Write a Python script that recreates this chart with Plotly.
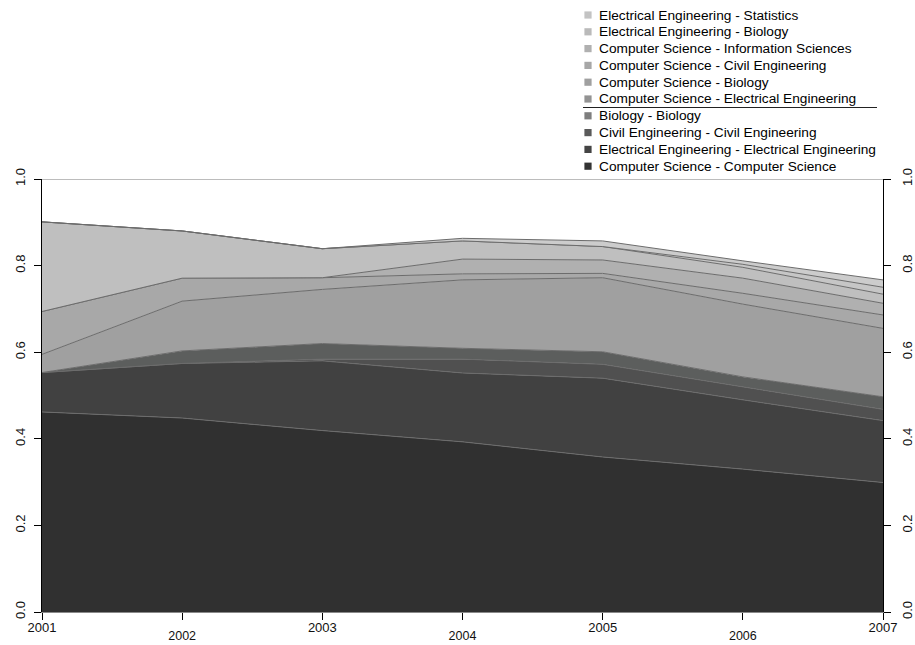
import plotly.graph_objects as go

# ---------------- data ----------------
years = [2001, 2002, 2003, 2004, 2005, 2006, 2007]
year_labels = ["2001", "2002", "2003", "2004", "2005", "2006", "2007"]

series_names = [
    "Computer Science - Computer Science",
    "Electrical Engineering - Electrical Engineering",
    "Civil Engineering - Civil Engineering",
    "Biology - Biology",
    "Computer Science - Electrical Engineering",
    "Computer Science - Biology",
    "Computer Science - Civil Engineering",
    "Computer Science - Information Sciences",
    "Electrical Engineering - Biology",
    "Electrical Engineering - Statistics",
]

cs_cs = [0.462, 0.448, 0.419, 0.393, 0.358, 0.330, 0.299]
ee_ee = [0.091, 0.126, 0.161, 0.159, 0.182, 0.160, 0.143]
ce_ce = [0.000, 0.000, 0.004, 0.032, 0.032, 0.030, 0.026]
bio_bio = [0.000, 0.029, 0.036, 0.025, 0.029, 0.023, 0.029]
cs_ee = [0.042, 0.115, 0.125, 0.158, 0.171, 0.168, 0.158]
cs_bio = [0.099, 0.053, 0.027, 0.014, 0.010, 0.025, 0.031]
cs_ce = [0.000, 0.000, 0.000, 0.034, 0.031, 0.035, 0.027]
cs_is = [0.207, 0.109, 0.067, 0.042, 0.031, 0.025, 0.021]
ee_bio = [0.000, 0.000, 0.000, 0.000, 0.000, 0.007, 0.016]
ee_stat = [0.000, 0.000, 0.000, 0.006, 0.013, 0.008, 0.017]

series_values = [cs_cs, ee_ee, ce_ce, bio_bio, cs_ee, cs_bio, cs_ce, cs_is, ee_bio, ee_stat]

y_ticks = [0.0, 0.2, 0.4, 0.6, 0.8, 1.0]
y_tick_labels = ["0.0", "0.2", "0.4", "0.6", "0.8", "1.0"]

# ---------------- style ----------------
area_colors = ["#303030", "#414141", "#505050", "#5c5e5d", "#a0a0a0",
               "#a8a8a8", "#b0b0b0", "#bfbfbf", "#c6c6c6", "#cccccc"]
legend_colors = ["#333333", "#444444", "#5a5a5a", "#7e7e7e", "#939393",
                 "#a0a0a0", "#a7a7a7", "#b0b0b0", "#bababa", "#c3c3c3"]
edge_color = "#6c6c6c"
FONT = "Liberation Sans, Arial, sans-serif"

W, H = 915, 645
ML, MR, MT, MB = 42, 32, 179, 33
PW, PH = W - ML - MR, H - MT - MB


def px_to_paper_x(px):
    return (px - ML) / PW


def px_to_paper_y(py):
    return (H - MB - py) / PH


fig = go.Figure()
for name, vals, col in zip(series_names, series_values, area_colors):
    fig.add_trace(go.Scatter(
        x=years, y=vals, name=name, mode="lines",
        stackgroup="one", fillcolor=col,
        line=dict(color=edge_color, width=1),
        showlegend=False, hoverinfo="x+y+name",
    ))

# empty helper trace so the secondary (right / staggered) axes are drawn
fig.add_trace(go.Scatter(x=[None], y=[None], xaxis="x2", yaxis="y2",
                         showlegend=False, hoverinfo="skip", mode="lines"))

odd_years = years[0::2]
even_years = years[1::2]
even_labels = year_labels[1::2]

axis_font = dict(family=FONT, size=13, color="#111111")

common_y = dict(
    range=[0, 1], tickvals=y_ticks, ticktext=y_tick_labels,
    tickangle=-90, ticks="outside", ticklen=7, tickcolor="#000000", tickwidth=1,
    showline=True, linecolor="#000000", linewidth=1,
    showgrid=False, zeroline=False, tickfont=axis_font,
    automargin=False,
)

fig.update_layout(
    width=W, height=H,
    margin=dict(l=ML, r=MR, t=MT, b=MB, pad=0, autoexpand=False),
    paper_bgcolor="white", plot_bgcolor="white",
    showlegend=False,
    xaxis=dict(
        range=[years[0], years[-1]], tickvals=years,
        ticktext=[lab if y in odd_years else "" for y, lab in zip(years, year_labels)],
        ticks="outside", ticklen=7, tickcolor="#000000", tickwidth=1,
        showline=True, linecolor="#8a8a8a", linewidth=1,
        showgrid=False, zeroline=False, tickfont=axis_font, automargin=False,
        ticklabelstandoff=-4,
    ),
    xaxis2=dict(
        range=[years[0], years[-1]], tickvals=even_years, ticktext=even_labels,
        overlaying="x", side="bottom", anchor="y2",
        ticks="outside", ticklen=7, tickcolor="#000000", tickwidth=1,
        showline=False, showgrid=False, zeroline=False,
        tickfont=dict(family=FONT, size=12.5, color="#111111"),
        automargin=False, ticklabelstandoff=5,
    ),
    yaxis=dict(**common_y, ticklabelstandoff=4),
    yaxis2=dict(**common_y, overlaying="y", side="right", anchor="x2",
                ticklabelstandoff=5),
)

shapes = []
annotations = []
# top border line at 1.0
shapes.append(dict(type="line", xref="paper", yref="y", x0=0, x1=1, y0=1, y1=1,
                   line=dict(color="#7a7a7a", width=1.2), layer="above"))

# manual legend (top entry = last series)
row0, rowstep = 15.0, 16.8
sq = 3.6
for i in range(len(series_names)):
    k = len(series_names) - 1 - i
    cy = row0 + i * rowstep
    shapes.append(dict(type="rect", xref="paper", yref="paper",
                       x0=px_to_paper_x(588 - sq), x1=px_to_paper_x(588 + sq),
                       y0=px_to_paper_y(cy + sq), y1=px_to_paper_y(cy - sq),
                       fillcolor=legend_colors[k], line=dict(width=0)))
    annotations.append(dict(xref="paper", yref="paper",
                            x=px_to_paper_x(597), y=px_to_paper_y(cy),
                            xanchor="left", yanchor="middle", showarrow=False,
                            text=series_names[k],
                            font=dict(family=FONT, size=13.7, color="#000000")))
# separator line under the CS - EE entry
sep_y = row0 + 5 * rowstep + 8.5
shapes.append(dict(type="line", xref="paper", yref="paper",
                   x0=px_to_paper_x(583), x1=px_to_paper_x(877),
                   y0=px_to_paper_y(sep_y), y1=px_to_paper_y(sep_y),
                   line=dict(color="#222222", width=1)))

fig.update_layout(shapes=shapes, annotations=annotations)

fig.write_html(
    "out.html",
    config={"displayModeBar": False},
    post_script="document.body.style.margin='0';document.body.style.overflow='hidden';",
)
